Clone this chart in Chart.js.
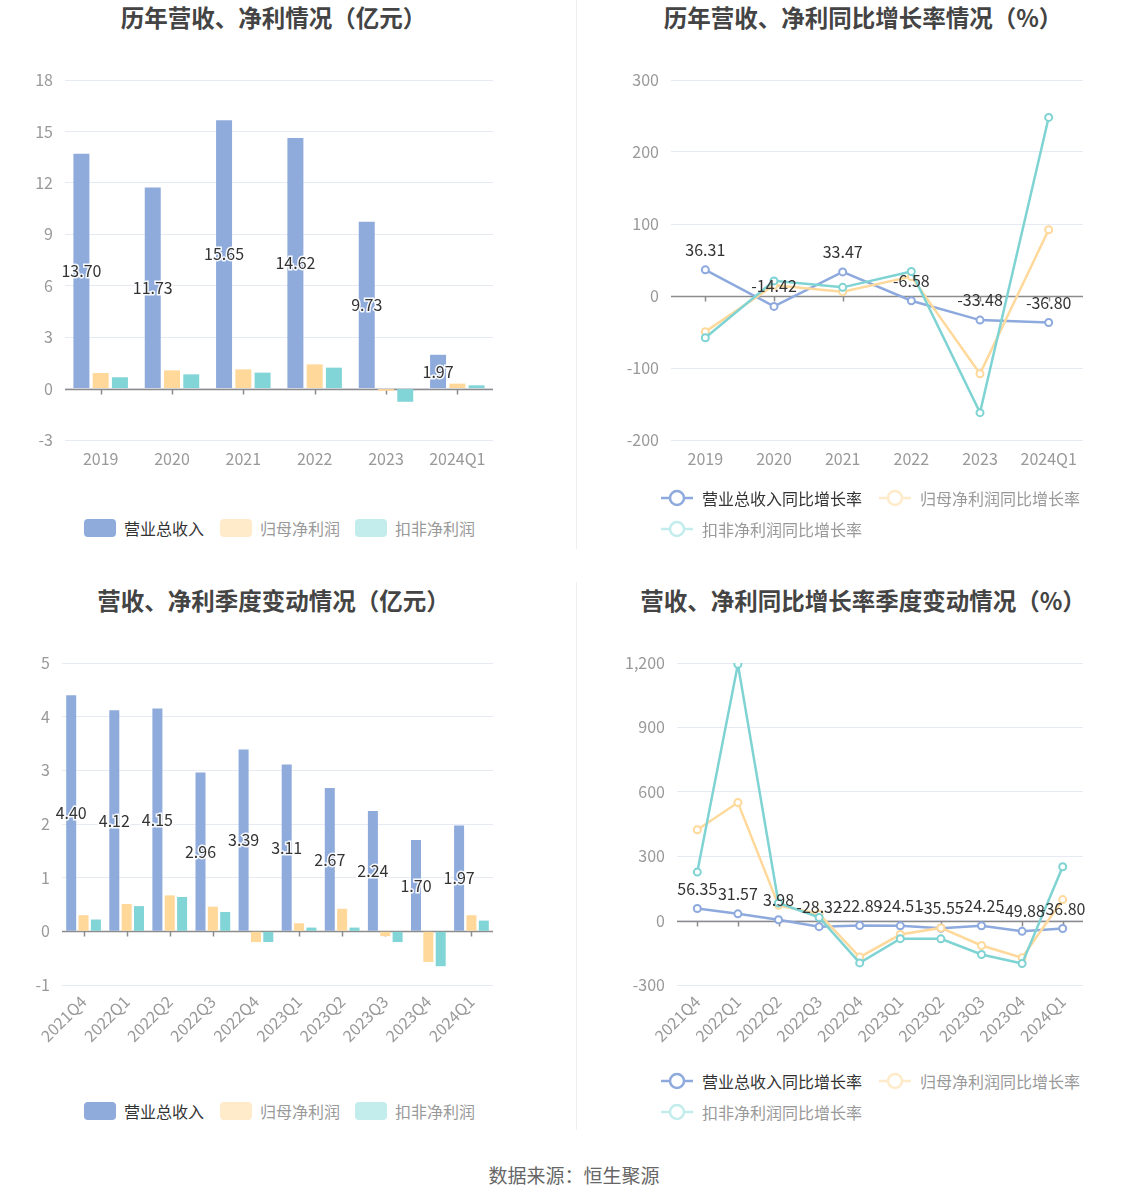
<!DOCTYPE html>
<html>
<head>
<meta charset="utf-8">
<script src="https://cdn.jsdelivr.net/npm/chart.js@4.4.1/dist/chart.umd.min.js"></script>
<style>
  body { margin: 0; background: #fff; width: 1148px; height: 1202px; position: relative; overflow: hidden;
         font-family: "Noto Sans CJK SC", sans-serif; }
  canvas { position: absolute; }
  .title { position: absolute; text-align: center; font-size: 23.5px; font-weight: bold; color: #444; line-height: 30px; }
  .divider { position: absolute; left: 576px; width: 1px; background: #eeeeee; }
  .lg { position: absolute; display: flex; align-items: center; font-size: 16px; line-height: 20px; white-space: nowrap; }
  .sw { width: 32px; height: 18px; border-radius: 4px; margin-right: 8px; }
  .src { position: absolute; top: 1161px; left: 0; width: 1148px; text-align: center; font-size: 19px; color: #666; }
</style>
</head>
<body>
<div class="title" style="left:0;width:547px;top:2px">历年营收、净利情况（亿元）</div>
<div class="title" style="left:590px;width:546px;top:2px">历年营收、净利同比增长率情况（%）</div>
<div class="title" style="left:0;width:547px;top:585px">营收、净利季度变动情况（亿元）</div>
<div class="title" style="left:590px;width:546px;top:585px">营收、净利同比增长率季度变动情况（%）</div>
<div class="divider" style="top:0;height:549px"></div>
<div class="divider" style="top:582px;height:548px"></div>

<canvas id="c1" width="574" height="440" style="left:0;top:50px"></canvas>
<canvas id="c2" width="574" height="440" style="left:574px;top:50px"></canvas>
<canvas id="c3" width="574" height="420" style="left:0;top:633px"></canvas>
<canvas id="c4" width="574" height="420" style="left:574px;top:633px"></canvas>

<div class="src">数据来源：恒生聚源</div>

<script>
// 年度数据
const years = ["2019", "2020", "2021", "2022", "2023", "2024Q1"];
const yearRevenue = [13.70, 11.73, 15.65, 14.62, 9.73, 1.97];
const yearNetProfit = [0.91, 1.06, 1.12, 1.41, -0.13, 0.29];
const yearDeductProfit = [0.66, 0.83, 0.93, 1.22, -0.77, 0.19];

const yearRevenueYoy = [36.31, -14.42, 33.47, -6.58, -33.48, -36.80];
const yearNetProfitYoy = [-49.5, 15, 6, 27, -108, 92];
const yearDeductProfitYoy = [-58, 21, 12, 34, -162, 248];

// 季度数据
const quarters = ["2021Q4", "2022Q1", "2022Q2", "2022Q3", "2022Q4", "2023Q1", "2023Q2", "2023Q3", "2023Q4", "2024Q1"];
const qRevenue = [4.40, 4.12, 4.15, 2.96, 3.39, 3.11, 2.67, 2.24, 1.70, 1.97];
const qNetProfit = [0.30, 0.51, 0.67, 0.46, -0.20, 0.15, 0.42, -0.09, -0.57, 0.30];
const qDeductProfit = [0.22, 0.47, 0.64, 0.36, -0.20, 0.07, 0.07, -0.20, -0.65, 0.20];

const qRevenueYoy = [56.35, 31.57, 3.98, -28.32, -22.89, -24.51, -35.55, -24.25, -49.88, -36.80];
const qNetProfitYoy = [423, 550, 71, 31, -170, -65, -34, -116, -173, 98];
const qDeductProfitYoy = [226, 1194, 82, 15, -197, -84, -85, -158, -200, 251];

const barNames = ["营业总收入", "归母净利润", "扣非净利润"];
const lineNames = ["营业总收入同比增长率", "归母净利润同比增长率", "扣非净利润同比增长率"];

const barColors = ["#8eabdc", "#ffd89a", "#82d5d6"];
const lineColors = ["#8da9dd", "#ffd99b", "#7fd3d3"];
const fadedColors = ["#8eabdc", "#ffebc9", "#c3ecec"];
const FONT = '"Noto Sans CJK SC", sans-serif';

// 0 轴 + 类目刻度
const zeroAxis = {
  id: "zeroAxis",
  beforeDatasetsDraw(chart) {
    const { ctx, chartArea, scales } = chart;
    const y0 = Math.round(scales.y.getPixelForValue(0)) + 0.5;
    ctx.save();
    ctx.strokeStyle = "#8c8c8c";
    ctx.lineWidth = 1.5;
    ctx.beginPath();
    ctx.moveTo(chartArea.left, y0);
    ctx.lineTo(chartArea.right, y0);
    scales.x.ticks.forEach((t, i) => {
      const px = Math.round(scales.x.getPixelForValue(i)) + 0.5;
      ctx.moveTo(px, y0);
      ctx.lineTo(px, y0 + 5);
    });
    ctx.stroke();
    ctx.restore();
  }
};

// 数值标签（只给第一个系列）
const valueLabels = {
  id: "valueLabels",
  afterDatasetsDraw(chart, args, opts) {
    if (!opts.mode) return;
    const ctx = chart.ctx;
    const meta = chart.getDatasetMeta(0);
    const data = chart.data.datasets[0].data;
    ctx.save();
    ctx.font = "16px " + FONT;
    ctx.textAlign = "center";
    ctx.textBaseline = "middle";
    meta.data.forEach((el, i) => {
      const txt = data[i].toFixed(2);
      const y = opts.mode === "bar" ? (el.y + el.base) / 2 : el.y - 20;
      if (opts.mode === "bar") {
        ctx.lineWidth = 3;
        ctx.strokeStyle = "rgba(255,255,255,0.9)";
        ctx.strokeText(txt, el.x, y);
      }
      ctx.fillStyle = "#333";
      ctx.fillText(txt, el.x, y);
    });
    ctx.restore();
  }
};

function makeChart(id, type, labels, series, names, yCfg, opt) {
  const datasets = series.map((d, i) => {
    if (type === "bar") {
      return {
        label: names[i], data: d, backgroundColor: barColors[i], borderWidth: 0,
        categoryPercentage: opt.catPct, barPercentage: opt.barPct
      };
    }
    return {
      label: names[i], data: d, borderColor: lineColors[i], borderWidth: 2.5,
      pointRadius: 3.5, pointBorderWidth: 2, pointBackgroundColor: "#fff",
      pointBorderColor: lineColors[i], tension: 0, order: 3 - i
    };
  });
  return new Chart(document.getElementById(id), {
    type: type,
    data: { labels: labels, datasets: datasets },
    plugins: [zeroAxis, valueLabels],
    options: {
      responsive: false,
      animation: false,
      devicePixelRatio: 1,
      layout: { padding: { top: 30, right: 81 - (opt.rightAdj || 0), left: 0, bottom: 0 } },
      plugins: {
        legend: { display: false },
        tooltip: { enabled: false },
        valueLabels: { mode: type }
      },
      scales: {
        x: {
          offset: true,
          grid: { display: false, drawTicks: false },
          border: { display: false },
          ticks: {
            color: "#999", font: { size: 16, family: FONT }, padding: opt.xPad,
            autoSkip: false, minRotation: opt.rot, maxRotation: opt.rot
          },
          afterFit(s) { s.height = opt.xH; }
        },
        y: {
          min: yCfg[0], max: yCfg[1],
          grid: { color: "#e6eaf5", drawTicks: false },
          border: { display: false },
          ticks: { stepSize: yCfg[2], color: "#999", font: { size: 16, family: FONT }, padding: 12 },
          afterFit(s) { s.width = opt.yW; }
        }
      }
    }
  });
}

makeChart("c1", "bar", years, [yearRevenue, yearNetProfit, yearDeductProfit], barNames,
  [-3, 18, 3], { catPct: 0.81, barPct: 0.83, xPad: 9, rot: 0, xH: 50, yW: 65 });
makeChart("c2", "line", years, [yearRevenueYoy, yearNetProfitYoy, yearDeductProfitYoy], lineNames,
  [-200, 300, 100], { xPad: 9, rot: 0, xH: 50, yW: 97, rightAdj: 16 });
makeChart("c3", "bar", quarters, [qRevenue, qNetProfit, qDeductProfit], barNames,
  [-1, 5, 1], { catPct: 0.86, barPct: 0.81, xPad: 7, rot: 45, xH: 68, yW: 62 });
makeChart("c4", "line", quarters, [qRevenueYoy, qNetProfitYoy, qDeductProfitYoy], lineNames,
  [-300, 1200, 300], { xPad: 7, rot: 45, xH: 68, yW: 103, rightAdj: 16 });

// 图例
function addLegend(kind, names, spots) {
  names.forEach((name, i) => {
    const item = document.createElement("div");
    item.className = "lg";
    item.style.left = spots[i][0] + "px";
    item.style.top = (spots[i][1] - 10) + "px";
    item.style.color = i === 0 ? "#333" : "#999";
    let icon;
    if (kind === "bar") {
      icon = '<div class="sw" style="background:' + fadedColors[i] + '"></div>';
    } else {
      const c = i === 0 ? lineColors[0] : fadedColors[i];
      icon = '<svg width="32" height="20" style="margin-right:9px"><line x1="0" y1="10" x2="32" y2="10" stroke="' + c +
        '" stroke-width="2.5"/><circle cx="16" cy="10" r="7" fill="#fff" stroke="' + c + '" stroke-width="2.5"/></svg>';
    }
    item.innerHTML = icon + "<span>" + name + "</span>";
    document.body.appendChild(item);
  });
}
addLegend("bar", barNames, [[84, 528], [220, 528], [355, 528]]);
addLegend("line", lineNames, [[661, 498], [879, 498], [661, 529]]);
addLegend("bar", barNames, [[84, 1111], [220, 1111], [355, 1111]]);
addLegend("line", lineNames, [[661, 1081], [879, 1081], [661, 1112]]);
</script>
</body>
</html>
